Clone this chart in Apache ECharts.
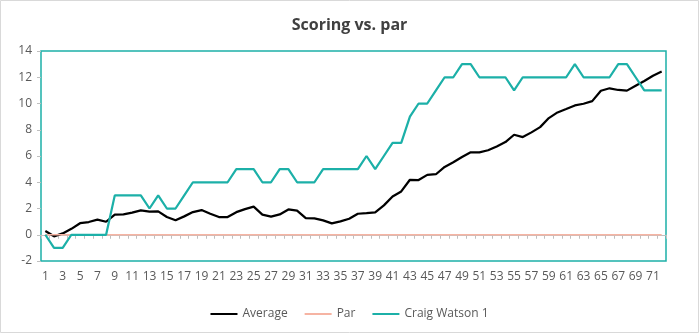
<!DOCTYPE html>
<html>
<head>
<meta charset="utf-8">
<script src="https://cdn.jsdelivr.net/npm/echarts@6/dist/echarts.min.js"></script>
<style>
  html, body { margin: 0; padding: 0; background: #fff; }
  #chart { width: 699px; height: 333px; }
</style>
</head>
<body>
<div id="chart"></div>
<script>
// Hole numbers 1..72
const holes = [];
for (let h = 1; h <= 72; h++) holes.push(String(h));

// Running score relative to par for the field average
const average = [
  0.28, -0.12, 0.1, 0.45, 0.88, 0.97, 1.15, 0.99, 1.54, 1.55,
  1.68, 1.86, 1.76, 1.78, 1.35, 1.1, 1.4, 1.73, 1.88, 1.6,
  1.35, 1.35, 1.72, 1.95, 2.14, 1.53, 1.38, 1.55, 1.93, 1.83,
  1.27, 1.25, 1.1, 0.87, 1.02, 1.22, 1.6, 1.65, 1.71, 2.24,
  2.92, 3.3, 4.19, 4.17, 4.56, 4.61, 5.17, 5.52, 5.92, 6.28,
  6.28, 6.44, 6.73, 7.06, 7.62, 7.44, 7.8, 8.2, 8.89, 9.32,
  9.58, 9.85, 9.98, 10.18, 10.97, 11.16, 11.03, 10.98, 11.35, 11.72,
  12.12, 12.43
];

// Par reference line
const par = holes.map(() => 0);

// Running score relative to par for the player
const craigWatson = [
  0, -1, -1, 0, 0, 0, 0, 0, 3, 3,
  3, 3, 2, 3, 2, 2, 3, 4, 4, 4,
  4, 4, 5, 5, 5, 4, 4, 5, 5, 4,
  4, 4, 5, 5, 5, 5, 5, 6, 5, 6,
  7, 7, 9, 10, 10, 11, 12, 12, 13, 13,
  12, 12, 12, 12, 11, 12, 12, 12, 12, 12,
  12, 13, 12, 12, 12, 12, 13, 13, 12, 11,
  11, 11
];

const FONT = '"Open Sans", "Noto Sans", sans-serif';
const TEAL = '#1cb0a8';

const chart = echarts.init(document.getElementById('chart'), null, { renderer: 'canvas' });

chart.setOption({
  backgroundColor: '#ffffff',
  animation: false,
  graphic: [{
    type: 'rect',
    shape: { x: 0.5, y: 0.5, width: 698, height: 332 },
    style: { fill: 'none', stroke: '#d9d9d9', lineWidth: 1 },
    z: -10
  }],
  title: {
    text: 'Scoring vs. par',
    left: 'center',
    top: 12,
    textStyle: { fontFamily: FONT, fontSize: 16, fontWeight: 'bold', color: '#404040' }
  },
  legend: {
    bottom: 8,
    left: 'center',
    icon: 'rect',
    itemWidth: 27,
    itemHeight: 2,
    itemGap: 17,
    textStyle: { fontFamily: FONT, fontSize: 12, color: '#595959' },
    data: ['Average', 'Par', 'Craig Watson 1']
  },
  grid: {
    left: 41,
    right: 33,
    top: 51,
    bottom: 72,
    show: true,
    borderColor: TEAL,
    borderWidth: 1.5,
    containLabel: false
  },
  xAxis: {
    type: 'category',
    data: holes,
    boundaryGap: true,
    axisLine: { onZero: true, lineStyle: { color: '#bfbfbf', width: 1 } },
    axisTick: { show: true, interval: 0, length: 4, lineStyle: { color: '#bfbfbf' } },
    axisLabel: {
      interval: 1,
      margin: 10,
      fontFamily: FONT,
      fontSize: 12,
      color: '#595959'
    },
    splitLine: { show: false }
  },
  yAxis: {
    type: 'value',
    min: -2,
    max: 14,
    interval: 2,
    axisLine: { show: false },
    axisTick: { show: true, length: 4, lineStyle: { color: '#bfbfbf' } },
    axisLabel: { margin: 9, fontFamily: FONT, fontSize: 12, color: '#595959' },
    splitLine: { show: false }
  },
  series: [
    {
      name: 'Average',
      type: 'line',
      data: average,
      symbol: 'none',
      lineStyle: { color: '#000000', width: 2.25 },
      itemStyle: { color: '#000000' }
    },
    {
      name: 'Par',
      type: 'line',
      data: par,
      symbol: 'none',
      lineStyle: { color: '#f6b4a3', width: 1.5 },
      itemStyle: { color: '#f6b4a3' }
    },
    {
      name: 'Craig Watson 1',
      type: 'line',
      data: craigWatson,
      symbol: 'none',
      lineStyle: { color: TEAL, width: 2.25 },
      itemStyle: { color: TEAL }
    }
  ]
});
</script>
</body>
</html>
